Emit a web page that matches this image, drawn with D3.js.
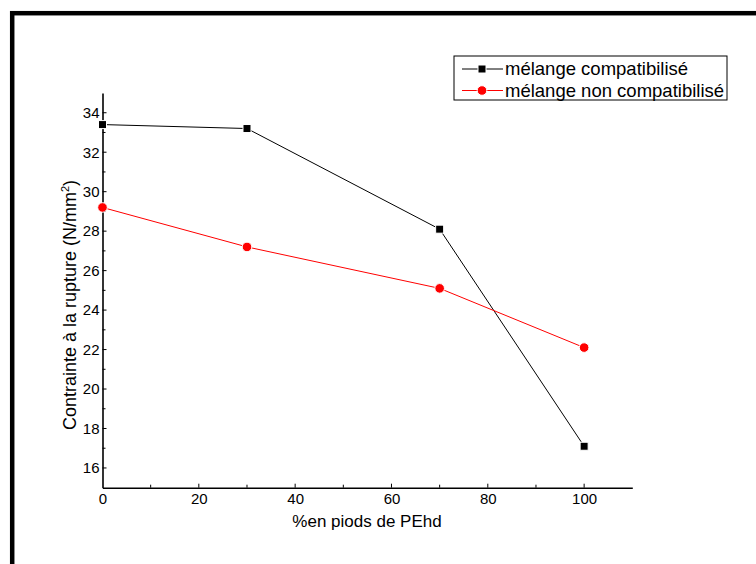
<!DOCTYPE html>
<html>
<head>
<meta charset="utf-8">
<script src="https://cdn.jsdelivr.net/npm/d3@7"></script>
<style>
  body { margin: 0; background: #fff; }
  svg { display: block; font-family: "Liberation Sans", Arial, sans-serif; }
</style>
</head>
<body>
<svg width="756" height="564"></svg>
<script>
// data
var loadings = [0, 30, 70, 100];
var compatibilise = [33.4, 33.2, 28.1, 17.1];
var nonCompatibilise = [29.2, 27.2, 25.1, 22.1];
var xTicks = [0, 20, 40, 60, 80, 100];
var yTicks = [16, 18, 20, 22, 24, 26, 28, 30, 32, 34];
var seriesNames = ["mélange compatibilisé", "mélange non compatibilisé"];

var svg = d3.select("svg"),
  width = +svg.attr("width"),
  height = +svg.attr("height");

// frame around the whole figure
svg.append("rect")
  .attr("x", 12.2).attr("y", 13.2)
  .attr("width", 800).attr("height", 600)
  .attr("fill", "none")
  .attr("stroke", "#000")
  .attr("stroke-width", 4.5);

var x = d3.scaleLinear().domain([0, 110]).range([102.5, 632.3]);
var y = d3.scaleLinear().domain([15, 35]).range([487.7, 93]);

// axes, ticks inside like Origin
var xAxis = d3.axisBottom(x).tickValues(xTicks).tickSize(0).tickPadding(6);
var gx = svg.append("g").attr("transform", "translate(0," + y(15) + ")").call(xAxis);
gx.select(".domain").attr("stroke-width", 1.6);
gx.selectAll("text").attr("font-size", 15).attr("font-family", "Liberation Sans, Arial").attr("fill", "#000");
gx.selectAll(".tickIn")
  .data(d3.range(10, 110, 10))
  .enter().append("line")
  .attr("x1", d => x(d)).attr("x2", d => x(d))
  .attr("y1", 0).attr("y2", d => d % 20 == 0 ? -4 : -3)
  .attr("stroke", "#000");

var yAxis = d3.axisLeft(y).tickValues(yTicks).tickSize(0).tickPadding(3);
var gy = svg.append("g").attr("transform", "translate(" + x(0) + ",0)").call(yAxis);
gy.select(".domain").attr("stroke-width", 1.6);
gy.selectAll("text").attr("font-size", 15).attr("font-family", "Liberation Sans, Arial").attr("fill", "#000");
gy.selectAll(".tickIn")
  .data(d3.range(16, 35, 1))
  .enter().append("line")
  .attr("y1", d => y(d)).attr("y2", d => y(d))
  .attr("x1", 0).attr("x2", d => d % 2 == 0 ? 4 : 3)
  .attr("stroke", "#000");

// axis titles
svg.append("text")
  .attr("x", 367).attr("y", 527)
  .attr("text-anchor", "middle")
  .attr("font-size", 17)
  .text("%en piods de PEhd");

var yt = svg.append("text")
  .attr("transform", "translate(76," + 305 + ") rotate(-90)")
  .attr("text-anchor", "middle")
  .attr("font-size", 18);
yt.append("tspan").text("Contrainte à la rupture (N/mm");
yt.append("tspan").attr("font-size", 11).attr("dy", -7).text("2");
yt.append("tspan").attr("dy", 7).text(")");

// series
var line = d3.line().x((d, i) => x(loadings[i])).y(d => y(d));

svg.append("path").datum(compatibilise)
  .attr("d", line).attr("fill", "none").attr("stroke", "#000").attr("stroke-width", 1);
svg.append("path").datum(nonCompatibilise)
  .attr("d", line).attr("fill", "none").attr("stroke", "#ff0000").attr("stroke-width", 1);

svg.selectAll(".sq").data(compatibilise).enter().append("rect")
  .attr("x", (d, i) => x(loadings[i]) - 4)
  .attr("y", d => y(d) - 4)
  .attr("width", 8).attr("height", 8)
  .attr("fill", "#000").attr("stroke", "#fff").attr("stroke-width", 1);

svg.selectAll(".ci").data(nonCompatibilise).enter().append("circle")
  .attr("cx", (d, i) => x(loadings[i]))
  .attr("cy", d => y(d))
  .attr("r", 4.8)
  .attr("fill", "#ff0000").attr("stroke", "#fff").attr("stroke-width", 1);

// legend
var lg = svg.append("g");
lg.append("rect")
  .attr("x", 454).attr("y", 56).attr("width", 273).attr("height", 44)
  .attr("fill", "#fff").attr("stroke", "#000").attr("stroke-width", 1);
var rows = [
  { name: seriesNames[0], color: "#000", y: 69 },
  { name: seriesNames[1], color: "#ff0000", y: 90.5 }
];
rows.forEach(function (r, i) {
  lg.append("line").attr("x1", 462).attr("x2", 503).attr("y1", r.y).attr("y2", r.y)
    .attr("stroke", r.color).attr("stroke-width", 1);
  if (i == 0) {
    lg.append("rect").attr("x", 478).attr("y", r.y - 4).attr("width", 8).attr("height", 8)
      .attr("fill", "#000").attr("stroke", "#fff").attr("stroke-width", 1);
  } else {
    lg.append("circle").attr("cx", 482).attr("cy", r.y).attr("r", 4.8)
      .attr("fill", "#ff0000").attr("stroke", "#fff").attr("stroke-width", 1);
  }
  lg.append("text").attr("x", 505).attr("y", r.y + 6)
    .attr("font-size", 18.5).text(r.name);
});
</script>
</body>
</html>
